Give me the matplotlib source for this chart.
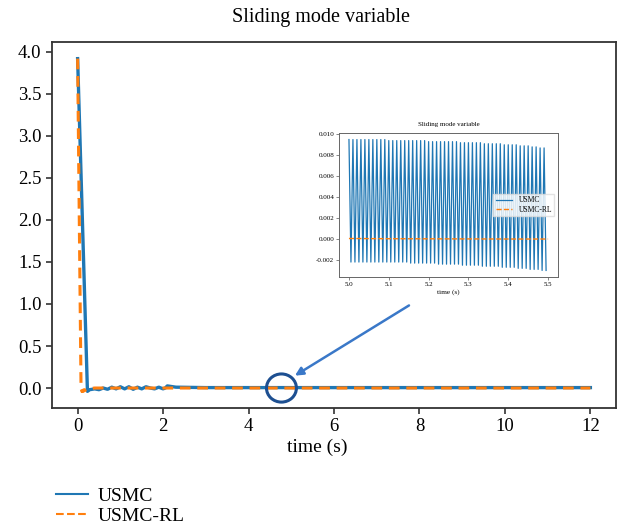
import numpy as np
import matplotlib.pyplot as plt
from matplotlib.lines import Line2D
from matplotlib.patches import Ellipse

plt.rcParams['font.family'] = ['Liberation Serif', 'DejaVu Serif']

# main plot data
t_usmc = [0.0, 0.23, 0.28, 0.4, 0.5, 0.6, 0.7, 0.8, 0.9, 1.0, 1.1, 1.2, 1.3, 1.4, 1.5,
          1.6, 1.7, 1.8, 1.9, 2.0, 2.05, 2.1, 2.3, 3.0, 4.0, 5.0, 6.0, 7.0, 8.0, 9.0,
          10.0, 11.0, 12.0]
s_usmc = [3.92, -0.04, -0.02, -0.01, -0.02, 0.0, -0.015, 0.01, -0.01, 0.015, -0.01, 0.015,
          -0.015, 0.01, -0.01, 0.015, 0.0, -0.01, 0.01, -0.01, 0.0, 0.025, 0.01, 0.005,
          0.005, 0.005, 0.005, 0.005, 0.005, 0.005, 0.005, 0.005, 0.005]

t_rl = [0.0, 0.08, 0.1, 0.15, 0.12, 0.25, 0.4, 1.0, 2.0, 3.0, 4.0, 5.0, 6.0, 7.0, 8.0,
        9.0, 10.0, 11.0, 12.0]
s_rl = [3.92, 0.0, -0.04, -0.02, -0.04, -0.01, 0.0, 0.0, 0.0, 0.0, 0.0, 0.0, 0.0, 0.0,
        0.0, 0.0, 0.0, 0.0, 0.0]

# zoomed inset data (5.0 - 5.5 s)
t_peak = np.round(np.arange(50) * 0.01 + 5.0, 3)
peaks = ([0.0095] * 10 + [0.0094] * 10 + [0.0093] * 8 + [0.0092] * 6 + [0.0091] * 5
         + [0.0090] * 4 + [0.0089] * 3 + [0.0088] * 2 + [0.0087] * 2)
troughs = ([-0.0022] * 15 + [-0.0023] * 7 + [-0.0024] * 6 + [-0.0025] * 5
           + [-0.0026] * 5 + [-0.0027] * 4 + [-0.0028] * 3 + [-0.0029] * 3
           + [-0.0030] * 2)
t_rl_zoom = [5.0, 5.1, 5.2, 5.3, 5.4, 5.5]
s_rl_zoom = [0.00005, 0.00003, 0.00002, 0.00001, 0.0, 0.0]

blue = '#1f77b4'
orange = '#ff7f0e'

fig = plt.figure(figsize=(6.21, 5.29), dpi=100)
ax = fig.add_axes([0.0837, 0.2287, 0.9083, 0.6919])

ax.plot(t_usmc, s_usmc, color=blue, lw=2.4)
ax.plot(t_rl, s_rl, color=orange, lw=2.2, ls=(0, (3.5, 2.2)))

ax.set_xticks([0, 2, 4, 6, 8, 10, 12])
ax.set_yticks([0.0, 0.5, 1.0, 1.5, 2.0, 2.5, 3.0, 3.5, 4.0])
ax.set_yticklabels(['0.0', '0.5', '1.0', '1.5', '2.0', '2.5', '3.0', '3.5', '4.0'])
ax.tick_params(labelsize=13.5, width=1.2, length=4, color='#333333')
for sp in ax.spines.values():
    sp.set_color('#333333')
    sp.set_linewidth(1.3)
ax.set_xlabel('time (s)', fontsize=14)
ax.xaxis.set_label_coords(0.47, -0.085)
fig.text(0.517, 0.967, 'Sliding mode variable', fontsize=14.5, ha='center', va='center')

# circle + arrow
ax.add_patch(Ellipse((4.77, 0.0), 0.70, 0.335, fill=False, ec='#1d4f91', lw=2.2, zorder=5))
ax.annotate('', xy=(5.03, 0.13), xytext=(7.81, 1.0),
            arrowprops=dict(arrowstyle='-|>', color='#3a78c8', lw=1.8, mutation_scale=12))

h1 = Line2D([], [], color=blue, lw=1.5)
h2 = Line2D([], [], color=orange, lw=1.5, ls='--')
fig.legend(handles=[h1, h2], labels=['USMC', 'USMC-RL'], loc='upper left',
           bbox_to_anchor=(0.068, 0.105), frameon=False, fontsize=14,
           handlelength=1.65, labelspacing=0.15, borderpad=0.2, handletextpad=0.5)

# inset
ins = fig.add_axes([0.5459, 0.4764, 0.3527, 0.2722])
zz_t = np.empty(100)
zz_s = np.empty(100)
zz_t[0::2] = t_peak
zz_t[1::2] = t_peak + 0.005
zz_s[0::2] = peaks
zz_s[1::2] = troughs
ins.plot(zz_t, zz_s, color=blue, lw=0.9, label='USMC')
ins.plot(t_rl_zoom, s_rl_zoom, color=orange, lw=1.0, ls='--', label='USMC-RL')
ins.set_xticks([5.0, 5.1, 5.2, 5.3, 5.4, 5.5])
ins.set_yticks([-0.002, 0.0, 0.002, 0.004, 0.006, 0.008, 0.010])
ins.set_yticklabels(['-0.002', '0.000', '0.002', '0.004', '0.006', '0.008', '0.010'])
ins.tick_params(labelsize=5, width=0.5, length=2, pad=1.5, color='#555555')
for sp in ins.spines.values():
    sp.set_color('#666666')
    sp.set_linewidth(0.7)
ins.set_title('Sliding mode variable', fontsize=5, pad=5)
ins.set_xlabel('time (s)', fontsize=5.2, labelpad=2)
ins.legend(loc='center right', fontsize=5.5, handlelength=2.2, borderpad=0.3,
           labelspacing=0.2, framealpha=0.8, fancybox=False, edgecolor='#dddddd')

fig.savefig('out.png', dpi=100)
